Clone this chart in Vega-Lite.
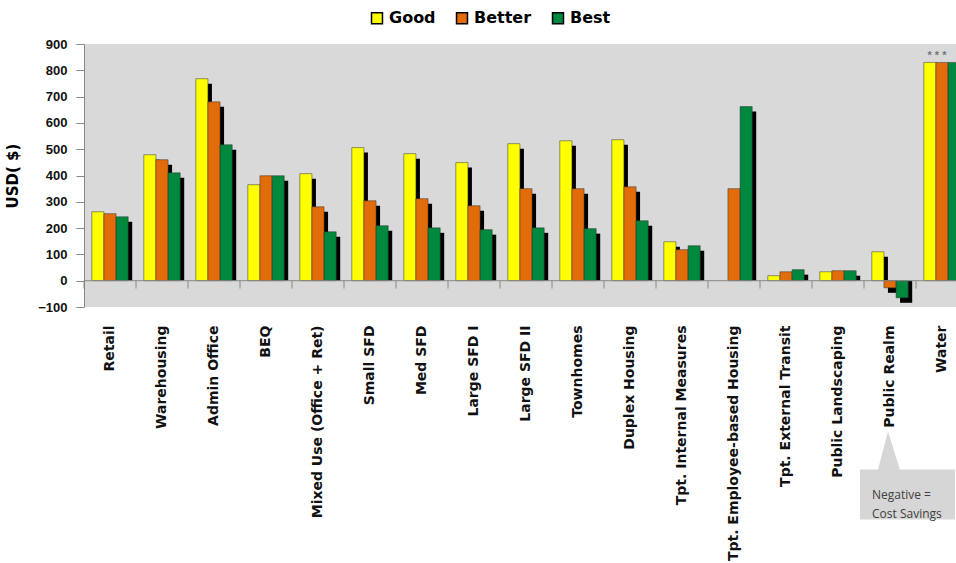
{
  "$schema": "https://vega.github.io/schema/vega-lite/v6.json",
  "autosize": {"type": "none"},
  "width": 872,
  "height": 263,
  "padding": {"left": 84, "top": 44, "right": 0, "bottom": 256},
  "background": "white",
  "config": {
    "view": {"fill": "#d9d9d9", "stroke": null},
    "font": "Liberation Sans"
  },
  "datasets": {
    "bars": [
      {"cat": "Retail", "level": "Good", "value": 262},
      {"cat": "Retail", "level": "Better", "value": 255},
      {"cat": "Retail", "level": "Best", "value": 243},
      {"cat": "Warehousing", "level": "Good", "value": 479},
      {"cat": "Warehousing", "level": "Better", "value": 460},
      {"cat": "Warehousing", "level": "Best", "value": 410},
      {"cat": "Admin Office", "level": "Good", "value": 768},
      {"cat": "Admin Office", "level": "Better", "value": 680},
      {"cat": "Admin Office", "level": "Best", "value": 517},
      {"cat": "BEQ", "level": "Good", "value": 365},
      {"cat": "BEQ", "level": "Better", "value": 399},
      {"cat": "BEQ", "level": "Best", "value": 399},
      {"cat": "Mixed Use (Office + Ret)", "level": "Good", "value": 407},
      {"cat": "Mixed Use (Office + Ret)", "level": "Better", "value": 281},
      {"cat": "Mixed Use (Office + Ret)", "level": "Best", "value": 186},
      {"cat": "Small SFD", "level": "Good", "value": 506},
      {"cat": "Small SFD", "level": "Better", "value": 304},
      {"cat": "Small SFD", "level": "Best", "value": 209},
      {"cat": "Med SFD", "level": "Good", "value": 483},
      {"cat": "Med SFD", "level": "Better", "value": 312},
      {"cat": "Med SFD", "level": "Best", "value": 201},
      {"cat": "Large SFD I", "level": "Good", "value": 449},
      {"cat": "Large SFD I", "level": "Better", "value": 285},
      {"cat": "Large SFD I", "level": "Best", "value": 194},
      {"cat": "Large SFD II", "level": "Good", "value": 521},
      {"cat": "Large SFD II", "level": "Better", "value": 350},
      {"cat": "Large SFD II", "level": "Best", "value": 201},
      {"cat": "Townhomes", "level": "Good", "value": 532},
      {"cat": "Townhomes", "level": "Better", "value": 350},
      {"cat": "Townhomes", "level": "Best", "value": 198},
      {"cat": "Duplex Housing", "level": "Good", "value": 536},
      {"cat": "Duplex Housing", "level": "Better", "value": 357},
      {"cat": "Duplex Housing", "level": "Best", "value": 228},
      {"cat": "Tpt. Internal Measures", "level": "Good", "value": 148},
      {"cat": "Tpt. Internal Measures", "level": "Better", "value": 118},
      {"cat": "Tpt. Internal Measures", "level": "Best", "value": 133},
      {"cat": "Tpt. Employee-based Housing", "level": "Better", "value": 350},
      {"cat": "Tpt. Employee-based Housing", "level": "Best", "value": 662},
      {"cat": "Tpt. External Transit", "level": "Good", "value": 19},
      {"cat": "Tpt. External Transit", "level": "Better", "value": 34},
      {"cat": "Tpt. External Transit", "level": "Best", "value": 42},
      {"cat": "Public Landscaping", "level": "Good", "value": 34},
      {"cat": "Public Landscaping", "level": "Better", "value": 38},
      {"cat": "Public Landscaping", "level": "Best", "value": 38},
      {"cat": "Public Realm", "level": "Good", "value": 110},
      {"cat": "Public Realm", "level": "Better", "value": -27},
      {"cat": "Public Realm", "level": "Best", "value": -65},
      {"cat": "Water", "level": "Good", "value": 830},
      {"cat": "Water", "level": "Better", "value": 830},
      {"cat": "Water", "level": "Best", "value": 830}
    ],
    "cats": [
      {"cat": "Retail"}, {"cat": "Warehousing"}, {"cat": "Admin Office"}, {"cat": "BEQ"},
      {"cat": "Mixed Use (Office + Ret)"}, {"cat": "Small SFD"}, {"cat": "Med SFD"}, {"cat": "Large SFD I"},
      {"cat": "Large SFD II"}, {"cat": "Townhomes"}, {"cat": "Duplex Housing"}, {"cat": "Tpt. Internal Measures"},
      {"cat": "Tpt. Employee-based Housing"}, {"cat": "Tpt. External Transit"}, {"cat": "Public Landscaping"},
      {"cat": "Public Realm"}, {"cat": "Water"}
    ]
  },
  "layer": [
    {
      "data": {"name": "bars"},
      "mark": {"type": "bar", "color": "black"},
      "encoding": {
        "x": {"field": "cat", "type": "nominal", "sort": null,
              "scale": {"range": [0, 884], "paddingInner": 0.3, "paddingOuter": 0.15},
              "axis": {"title": null, "labelAngle": -90, "labelFontWeight": "bold", "labelFontSize": 14,
                       "labelFont": "DejaVu Sans", "labelColor": "#111", "labelPadding": 18,
                       "ticks": false, "domain": false, "labelLimit": 300}},
        "xOffset": {"field": "level", "type": "nominal",
                    "scale": {"domain": ["Good", "Better", "Best"], "range": [4, 40.4]}},
        "y": {"field": "value", "type": "quantitative",
              "scale": {"domain": [-81, 919], "nice": false, "zero": false}, "axis": null},
        "y2": {"datum": 19}
      }
    },
    {
      "data": {"name": "bars"},
      "mark": {"type": "bar", "stroke": "#333", "strokeWidth": 0.5},
      "encoding": {
        "x": {"field": "cat", "type": "nominal", "sort": null},
        "xOffset": {"field": "level", "type": "nominal",
                    "scale": {"domain": ["Good", "Better", "Best"], "range": [0, 36.4]}},
        "y": {"field": "value", "type": "quantitative",
              "scale": {"domain": [-100, 900], "nice": false},
              "axis": {"title": "USD( $)", "titleFontSize": 15, "titleFontWeight": "bold", "titleColor": "#000",
                       "titleFont": "DejaVu Sans", "titlePadding": 17,
                       "values": [-100, 0, 100, 200, 300, 400, 500, 600, 700, 800, 900],
                       "labelFontWeight": "bold", "labelFontSize": 13, "labelColor": "#111",
                       "tickSize": 8, "tickColor": "#888", "domainColor": "#888",
                       "gridColor": "#a6a6a6", "gridWidth": 1, "labelPadding": 9}},
        "y2": {"datum": 0},
        "color": {"field": "level", "type": "nominal",
                  "scale": {"domain": ["Good", "Better", "Best"], "range": ["#ffff00", "#e36c0a", "#00883e"]},
                  "legend": {"orient": "none", "legendX": 285, "legendY": -34, "direction": "horizontal",
                             "title": null, "symbolType": "square", "symbolSize": 120, "symbolStrokeColor": "black",
                             "symbolStrokeWidth": 1.5, "symbolOpacity": 1, "labelFontSize": 16, "labelFontWeight": "bold",
                             "labelFont": "DejaVu Sans", "labelColor": "#000", "columnPadding": 17,
                             "symbolOffset": 0, "labelOffset": 4}}
      }
    },
    {
      "data": {"values": [{"v": 0}]},
      "mark": {"type": "rule", "color": "#888", "strokeWidth": 1},
      "encoding": {"y": {"field": "v", "type": "quantitative", "scale": {"domain": [-100, 900], "nice": false}, "axis": null}}
    },
    {
      "data": {"name": "cats"},
      "mark": {"type": "rule", "color": "#888", "strokeWidth": 1},
      "encoding": {
        "x": {"field": "cat", "type": "nominal", "sort": null, "bandPosition": -0.214},
        "y": {"datum": 0, "type": "quantitative", "scale": {"domain": [-100, 900], "nice": false}, "axis": null},
        "y2": {"datum": -30}
      }
    },
    {
      "data": {"values": [{"cat": "Water", "v": 853, "t": "* * *"}]},
      "mark": {"type": "text", "color": "#777", "fontSize": 11, "dx": -5, "baseline": "middle", "fontWeight": "bold"},
      "encoding": {
        "x": {"field": "cat", "type": "nominal", "sort": null},
        "y": {"field": "v", "type": "quantitative", "scale": {"domain": [-100, 900], "nice": false}, "axis": null},
        "text": {"field": "t"}
      }
    },
    {
      "data": {"values": [{"cat": "Public Realm", "v": -813}]},
      "mark": {"type": "point", "filled": true, "color": "#d6d6d6", "opacity": 1, "size": 9025,
               "shape": "M-0.632,-0.526 L-0.252,-0.526 L-0.042,-1.326 L0.208,-0.526 L1.368,-0.526 L1.368,0.526 L-0.632,0.526 Z"},
      "encoding": {
        "x": {"field": "cat", "type": "nominal", "sort": null},
        "y": {"field": "v", "type": "quantitative", "scale": {"domain": [-100, 900], "nice": false}, "axis": null}
      }
    },
    {
      "data": {"values": [{"cat": "Public Realm", "v": -813, "t": ["Negative =", "Cost Savings"]}]},
      "mark": {"type": "text", "align": "left", "dx": -18, "baseline": "middle", "fontSize": 12,
               "color": "#404040", "lineHeight": 19, "font": "Open Sans"},
      "encoding": {
        "x": {"field": "cat", "type": "nominal", "sort": null},
        "y": {"field": "v", "type": "quantitative", "scale": {"domain": [-100, 900], "nice": false}, "axis": null},
        "text": {"field": "t"}
      }
    }
  ],
  "resolve": {"scale": {"y": "independent", "xOffset": "independent"}}
}
